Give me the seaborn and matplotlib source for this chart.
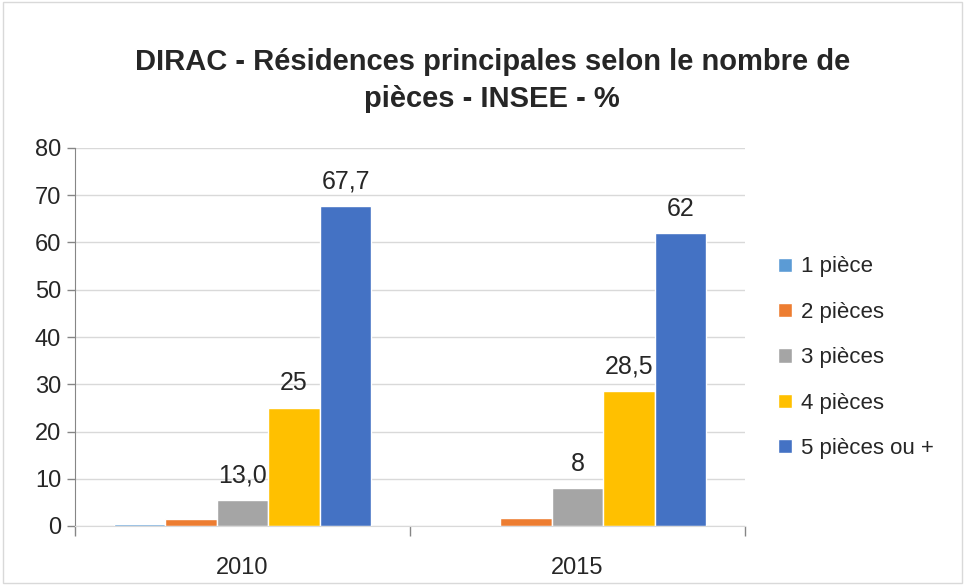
import pandas as pd
import numpy as np
import matplotlib
matplotlib.use('Agg')
import matplotlib.pyplot as plt
import seaborn as sns
from matplotlib.patches import Rectangle

# data
years = ['2010', '2015']
categories = ['1 pièce', '2 pièces', '3 pièces', '4 pièces', '5 pièces ou +']
values_2010 = [0.4, 1.4, 5.5, 25.0, 67.7]
values_2015 = [0.0, 1.6, 8.0, 28.5, 62.0]
labels_2010 = ['', '', '13,0', '25', '67,7']
labels_2015 = ['', '', '8', '28,5', '62']
colors = ['#5B9BD5', '#ED7D31', '#A5A5A5', '#FFC000', '#4472C4']

rows = []
for cat, v1, v2 in zip(categories, values_2010, values_2015):
    rows.append({'annee': years[0], 'pieces': cat, 'pct': v1})
    rows.append({'annee': years[1], 'pieces': cat, 'pct': v2})
df = pd.DataFrame(rows)

sns.set_style('white')
plt.rcParams['font.family'] = ['Liberation Sans Narrow', 'Liberation Sans', 'DejaVu Sans']

fig = plt.figure(figsize=(9.65, 5.85), dpi=100)
ax = fig.add_axes([75 / 965, 1 - 526 / 585, 670 / 965, 378 / 585])

sns.barplot(data=df, x='annee', y='pct', hue='pieces', order=years, hue_order=categories,
            palette=colors, width=0.77, gap=0, saturation=1, ax=ax, errorbar=None)

ax.set_ylim(0, 80)
ax.set_yticks(range(0, 81, 10))
ax.yaxis.grid(True, color='#D9D9D9', linewidth=1)
ax.set_axisbelow(True)
ax.set_xlabel('')
ax.set_ylabel('')
for s in ['top', 'right']:
    ax.spines[s].set_visible(False)
ax.spines['left'].set_color('#868686')
ax.spines['bottom'].set_color('#D9D9D9')
ax.set_xlim(-0.5, 1.5)
ax.set_xticks([-0.5, 0.5, 1.5], minor=True)
ax.tick_params(axis='x', which='major', labelsize=17, length=0, pad=22)
ax.tick_params(axis='x', which='minor', bottom=True, length=7, width=1, color='#868686', direction='out')
ax.tick_params(axis='y', left=True, labelsize=17, length=6, width=1, color='#868686', direction='out', pad=4)

all_labels = [labels_2010, labels_2015]
for i, cont in enumerate(ax.containers):
    ax.bar_label(cont, labels=[all_labels[0][i], all_labels[1][i]], fontsize=18, padding=9)

leg = ax.legend(loc='center left', bbox_to_anchor=(1.02, 0.445), frameon=False, fontsize=16,
                handlelength=0.6, handleheight=0.6, handletextpad=0.4, labelspacing=1.1)

fig.text(0.51, 0.862, 'DIRAC - Résidences principales selon le nombre de\npièces - INSEE - %',
         ha='center', va='center', fontsize=21, fontweight='bold', linespacing=1.4)

fig.patches.append(Rectangle((0.003, 0.003), 0.994, 0.994, transform=fig.transFigure,
                             fill=False, edgecolor='#D9D9D9', linewidth=1))

fig.savefig('out.png', dpi=100)
